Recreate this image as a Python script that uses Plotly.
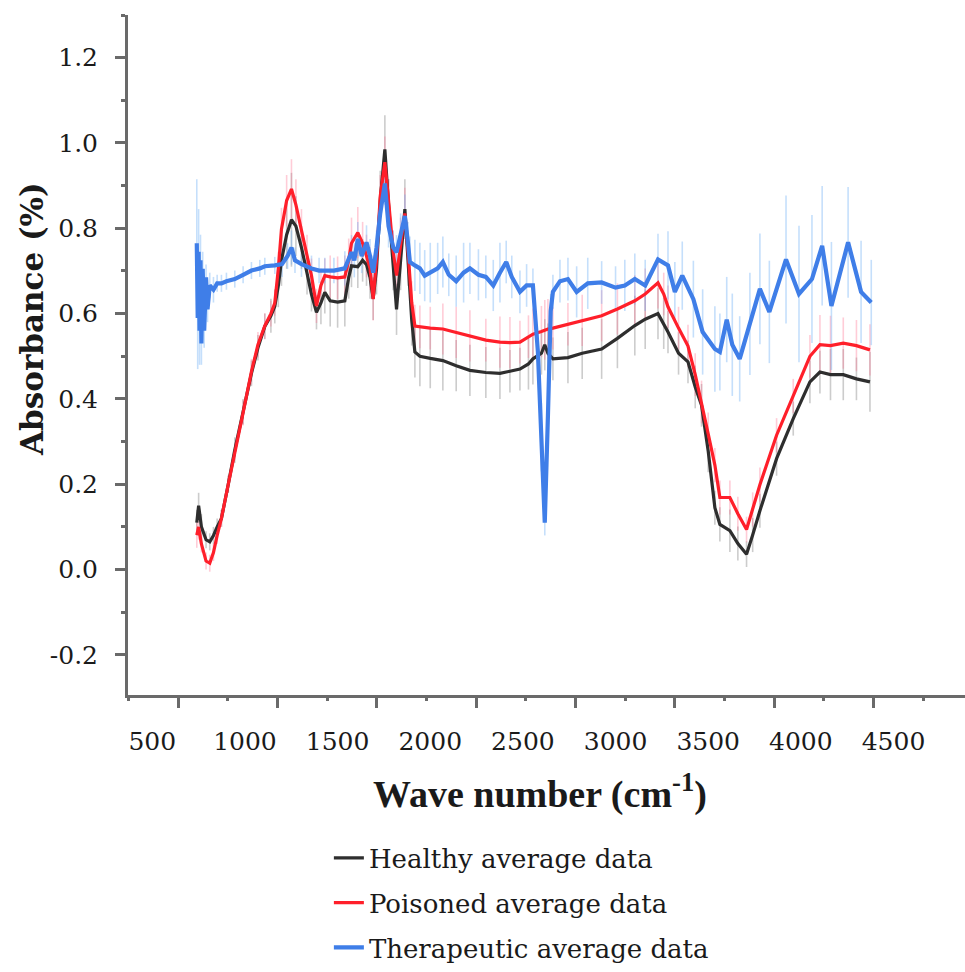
import plotly.graph_objects as go

# ---------------- data ----------------
wave_hp = [740, 750, 765, 790, 810, 830, 850, 873, 910, 945, 990, 1035, 1070, 1107, 1140, 1161,
           1180, 1197, 1225, 1251, 1275, 1305, 1335, 1359, 1386, 1410, 1431, 1460, 1500, 1539,
           1560, 1575, 1609, 1635, 1656, 1675, 1692, 1710, 1730, 1755, 1775, 1800, 1818, 1840,
           1863, 1880, 1900, 1917, 1944, 2000, 2068, 2140, 2214, 2300, 2376, 2430, 2484, 2530,
           2554, 2600, 2618, 2635, 2662, 2743, 2820, 2925, 3010, 3104, 3160, 3229, 3260, 3283,
           3340, 3391, 3430, 3464, 3500, 3536, 3563, 3617, 3660, 3707, 3740, 3779, 3869, 3959,
           4049, 4103, 4160, 4229, 4300, 4373]

healthy = [0.11, 0.15, 0.10, 0.07, 0.065, 0.08, 0.10, 0.12, 0.20, 0.28, 0.37, 0.46, 0.52, 0.57,
           0.595, 0.617, 0.665, 0.725, 0.785, 0.82, 0.805, 0.755, 0.695, 0.645, 0.603, 0.625,
           0.65, 0.63, 0.627, 0.63, 0.685, 0.712, 0.71, 0.725, 0.715, 0.685, 0.635, 0.705, 0.865,
           0.985, 0.855, 0.705, 0.61, 0.725, 0.845, 0.725, 0.585, 0.51, 0.50, 0.495, 0.49, 0.478,
           0.467, 0.462, 0.46, 0.465, 0.47, 0.482, 0.494, 0.507, 0.527, 0.507, 0.494, 0.497,
           0.507, 0.517, 0.542, 0.572, 0.587, 0.60, 0.577, 0.557, 0.507, 0.487, 0.428, 0.385,
           0.278, 0.145, 0.106, 0.091, 0.061, 0.036, 0.081, 0.138, 0.26, 0.354, 0.44, 0.463,
           0.457, 0.457, 0.447, 0.44]

poisoned = [0.081, 0.10, 0.06, 0.02, 0.015, 0.04, 0.08, 0.12, 0.20, 0.277, 0.368, 0.464, 0.527,
            0.571, 0.60, 0.625, 0.705, 0.798, 0.865, 0.892, 0.855, 0.795, 0.735, 0.689, 0.618,
            0.666, 0.689, 0.686, 0.684, 0.686, 0.726, 0.765, 0.79, 0.765, 0.735, 0.706, 0.634,
            0.726, 0.875, 0.955, 0.865, 0.745, 0.689, 0.765, 0.835, 0.745, 0.626, 0.571, 0.569,
            0.566, 0.564, 0.556, 0.548, 0.538, 0.533, 0.532, 0.533, 0.546, 0.552, 0.558, 0.562,
            0.564, 0.566, 0.575, 0.584, 0.595, 0.611, 0.63, 0.646, 0.672, 0.646, 0.616, 0.566,
            0.524, 0.457, 0.393, 0.318, 0.245, 0.169, 0.169, 0.131, 0.094, 0.141, 0.199, 0.315,
            0.407, 0.50, 0.527, 0.525, 0.531, 0.525, 0.515]

healthy_err = [0.03, 0.03, 0.03, 0.02, 0.02, 0.02, 0.02, 0.02, 0.02, 0.03, 0.03, 0.03, 0.03,
               0.03, 0.04, 0.04, 0.05, 0.06, 0.08, 0.11, 0.07, 0.05, 0.05, 0.04, 0.04, 0.05,
               0.05, 0.06, 0.06, 0.06, 0.05, 0.05, 0.05, 0.05, 0.05, 0.05, 0.05, 0.06, 0.07,
               0.08, 0.06, 0.05, 0.06, 0.07, 0.07, 0.06, 0.06, 0.06, 0.07, 0.07, 0.07, 0.06,
               0.06, 0.06, 0.06, 0.05, 0.05, 0.06, 0.06, 0.05, 0.06, 0.07, 0.05, 0.06, 0.06,
               0.07, 0.07, 0.07, 0.07, 0.06, 0.06, 0.05, 0.05, 0.05, 0.05, 0.05, 0.05, 0.04,
               0.04, 0.05, 0.04, 0.03, 0.04, 0.04, 0.04, 0.04, 0.05, 0.05, 0.06, 0.06, 0.05,
               0.07]

poisoned_err = [0.03, 0.03, 0.02, 0.02, 0.02, 0.02, 0.02, 0.02, 0.02, 0.02, 0.03, 0.03, 0.03,
                0.03, 0.03, 0.03, 0.04, 0.05, 0.06, 0.07, 0.06, 0.05, 0.05, 0.04, 0.04, 0.04,
                0.04, 0.05, 0.05, 0.05, 0.05, 0.06, 0.06, 0.05, 0.05, 0.05, 0.05, 0.05, 0.05,
                0.06, 0.05, 0.05, 0.05, 0.06, 0.06, 0.05, 0.05, 0.05, 0.05, 0.05, 0.06, 0.06,
                0.06, 0.05, 0.06, 0.06, 0.05, 0.05, 0.06, 0.06, 0.07, 0.07, 0.05, 0.05, 0.06,
                0.06, 0.06, 0.06, 0.06, 0.06, 0.05, 0.05, 0.05, 0.05, 0.05, 0.05, 0.05, 0.04,
                0.04, 0.04, 0.04, 0.03, 0.04, 0.04, 0.04, 0.04, 0.05, 0.07, 0.07, 0.06, 0.06,
                0.06]

wave_t = [740, 745, 750, 755, 760, 765, 772, 780, 790, 798, 810, 830, 850, 873, 900, 945, 990,
          1035, 1080, 1107, 1161, 1200, 1230, 1251, 1270, 1305, 1359, 1400, 1431, 1480, 1539,
          1575, 1590, 1609, 1630, 1656, 1675, 1692, 1710, 1730, 1755, 1775, 1800, 1818, 1840,
          1863, 1880, 1890, 1917, 1944, 1970, 2000, 2040, 2068, 2100, 2140, 2180, 2214, 2260,
          2300, 2340, 2376, 2410, 2440, 2484, 2520, 2554, 2581, 2600, 2618, 2635, 2650, 2662,
          2700, 2743, 2790, 2850, 2925, 3000, 3050, 3104, 3160, 3229, 3283, 3320, 3360, 3420,
          3470, 3536, 3563, 3600, 3630, 3670, 3725, 3779, 3830, 3920, 3990, 4060, 4115, 4165,
          4255, 4325, 4380]

therapeutic = [0.765, 0.59, 0.745, 0.56, 0.725, 0.53, 0.705, 0.56, 0.685, 0.61, 0.666, 0.656,
               0.671, 0.671, 0.676, 0.681, 0.691, 0.701, 0.706, 0.711, 0.713, 0.716, 0.735,
               0.755, 0.725, 0.716, 0.706, 0.701, 0.701, 0.701, 0.706, 0.744, 0.725, 0.775,
               0.735, 0.767, 0.735, 0.696, 0.755, 0.835, 0.905, 0.805, 0.755, 0.744, 0.785,
               0.829, 0.765, 0.721, 0.713, 0.706, 0.689, 0.696, 0.706, 0.721, 0.691, 0.676,
               0.696, 0.706, 0.691, 0.686, 0.666, 0.696, 0.721, 0.686, 0.651, 0.666, 0.666,
               0.51, 0.31, 0.11, 0.36, 0.606, 0.651, 0.676, 0.681, 0.651, 0.671, 0.673, 0.661,
               0.666, 0.681, 0.666, 0.727, 0.713, 0.651, 0.689, 0.634, 0.557, 0.517, 0.51,
               0.586, 0.527, 0.494, 0.576, 0.658, 0.604, 0.727, 0.646, 0.681, 0.759, 0.618,
               0.767, 0.651, 0.626]

therapeutic_err = [0.15, 0.12, 0.10, 0.08, 0.06, 0.05, 0.04, 0.04, 0.03, 0.03, 0.03, 0.03, 0.02,
                   0.02, 0.02, 0.02, 0.02, 0.02, 0.02, 0.02, 0.02, 0.03, 0.03, 0.04, 0.03, 0.03,
                   0.03, 0.03, 0.03, 0.03, 0.04, 0.04, 0.04, 0.04, 0.04, 0.04, 0.04, 0.04, 0.04,
                   0.05, 0.05, 0.05, 0.04, 0.04, 0.05, 0.05, 0.05, 0.06, 0.06, 0.06, 0.06, 0.07,
                   0.06, 0.06, 0.05, 0.06, 0.07, 0.06, 0.06, 0.05, 0.06, 0.07, 0.05, 0.05, 0.05,
                   0.05, 0.04, 0.05, 0.08, 0.03, 0.05, 0.04, 0.04, 0.05, 0.05, 0.06, 0.06, 0.05,
                   0.05, 0.06, 0.06, 0.06, 0.06, 0.08, 0.07, 0.08, 0.09, 0.10, 0.10, 0.09, 0.10,
                   0.12, 0.10, 0.12, 0.13, 0.12, 0.15, 0.16, 0.15, 0.14, 0.15, 0.13, 0.12, 0.10]

x_tick_labels = ["500", "1000", "1500", "2000", "2500", "3000", "3500", "4000", "4500"]
x_tick_values = [500, 1000, 1500, 2000, 2500, 3000, 3500, 4000, 4500]
y_tick_values = [-0.2, 0.0, 0.2, 0.4, 0.6, 0.8, 1.0, 1.2]
y_tick_labels = ["-0.2", "0.0", "0.2", "0.4", "0.6", "0.8", "1.0", "1.2"]

series_names = ["Healthy average data", "Poisoned average data", "Therapeutic average data"]

# ---------------- styling ----------------
AXIS = "#6a6a6a"
LINE_COLORS = ["#2e2e2e", "#ff1f2a", "#3f7ee8"]
LINE_WIDTHS = [3.2, 3.2, 4.2]
ERR_COLORS = ["rgba(110,110,110,0.35)", "rgba(255,110,140,0.35)", "rgba(110,175,245,0.40)"]
W, H = 965, 972

fig = go.Figure()

# error bars (drawn underneath)
for xs, ys, es, c in [(wave_hp, healthy, healthy_err, ERR_COLORS[0]),
                      (wave_hp, poisoned, poisoned_err, ERR_COLORS[1]),
                      (wave_t, therapeutic, therapeutic_err, ERR_COLORS[2])]:
    fig.add_trace(go.Scatter(
        x=xs, y=ys, mode="markers", marker=dict(size=0.1, opacity=0),
        error_y=dict(type="data", array=es, visible=True, color=c, thickness=1.6, width=0),
        showlegend=False, hoverinfo="skip"))

for i, (xs, ys) in enumerate([(wave_hp, healthy), (wave_hp, poisoned), (wave_t, therapeutic)]):
    fig.add_trace(go.Scatter(
        x=xs, y=ys, mode="lines", name=series_names[i],
        line=dict(color=LINE_COLORS[i], width=LINE_WIDTHS[i]),
        legendgroup=f"g{i}"))

# helper trace on the tick axis so it is drawn
fig.add_trace(go.Scatter(x=[1000], y=[None], xaxis="x2", showlegend=False, hoverinfo="skip"))

fig.update_layout(
    width=W, height=H,
    margin=dict(l=128, r=0, t=15, b=274),
    paper_bgcolor="white", plot_bgcolor="white",
    xaxis=dict(
        range=[368.8, 4885.9],
        tickmode="array", tickvals=x_tick_values, ticktext=x_tick_labels,
        ticks="", showgrid=False, zeroline=False,
        showline=True, linecolor=AXIS, linewidth=3,
        tickfont=dict(family="DejaVu Serif", size=25, color="#1a1a1a"),
        ticklabelstandoff=22,
    ),
    xaxis2=dict(
        overlaying="x", anchor="y", side="bottom",
        range=[246.7, 4461], tickmode="linear", tick0=500, dtick=500,
        ticks="outside", ticklen=12, tickwidth=3, tickcolor=AXIS,
        minor=dict(ticks="outside", dtick=250, tick0=250, ticklen=5, tickwidth=3, tickcolor=AXIS),
        showticklabels=False, showgrid=False, zeroline=False, showline=False,
    ),
    yaxis=dict(
        range=[-0.294, 1.30],
        tickmode="array", tickvals=y_tick_values, ticktext=y_tick_labels,
        ticks="outside", ticklen=10, tickwidth=3, tickcolor=AXIS,
        minor=dict(ticks="outside", dtick=0.1, tick0=0.1, ticklen=4, tickwidth=3, tickcolor=AXIS),
        showgrid=False, zeroline=False,
        showline=True, linecolor=AXIS, linewidth=3,
        tickfont=dict(family="DejaVu Serif", size=25, color="#1a1a1a"),
        ticklabelstandoff=12,
    ),
    legend=dict(
        x=0.24, y=-0.205, xanchor="left", yanchor="top",
        font=dict(family="DejaVu Serif", size=26, color="#1a1a1a"),
        tracegroupgap=8, bgcolor="rgba(0,0,0,0)", itemwidth=30,
    ),
    showlegend=True,
    annotations=[
        dict(text="Absorbance (%)", textangle=-90, xref="paper", yref="paper",
             x=-0.1147, y=0.553, xanchor="center", yanchor="middle", showarrow=False,
             font=dict(family="DejaVu Serif", size=31, color="#1a1a1a", weight="bold")),
        dict(text="Wave number (cm<sup>-1</sup>)", xref="paper", yref="paper",
             x=0.492, y=-0.142, xanchor="center", yanchor="middle", showarrow=False,
             font=dict(family="Liberation Serif", size=38, color="#1a1a1a", weight="bold")),
    ],
)

fig.write_html("out.html")
